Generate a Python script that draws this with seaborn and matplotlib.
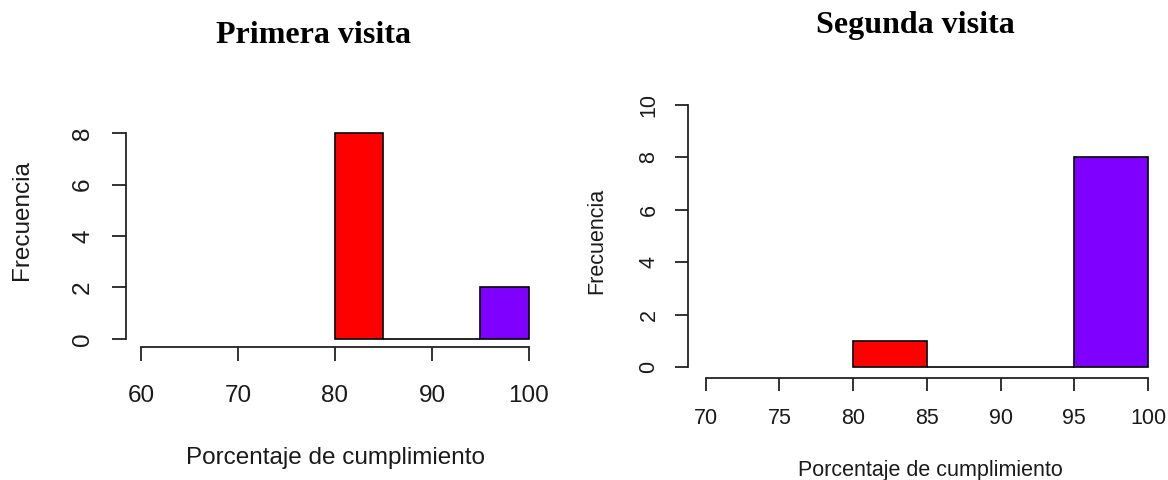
import numpy as np
import pandas as pd
import matplotlib
matplotlib.use("Agg")
import matplotlib.pyplot as plt
import seaborn as sns

# ---- data ----
bin_edges = [80, 85, 90, 95, 100]
bin_colors = ["#FF0000", "#80FF00", "#00FFFF", "#8000FF"]
primera_counts = [8, 0, 0, 2]
segunda_counts = [1, 0, 0, 8]
titles = ["Primera visita", "Segunda visita"]
x_label = "Porcentaje de cumplimiento"
y_label = "Frecuencia"
primera_xticks = [60, 70, 80, 90, 100]
primera_yticks = [0, 2, 4, 6, 8]
segunda_xticks = [70, 75, 80, 85, 90, 95, 100]
segunda_yticks = [0, 2, 4, 6, 8, 10]

sns.set_style("white")
plt.rcParams['font.family'] = ['Liberation Sans', 'DejaVu Sans']

fig = plt.figure(figsize=(11.68, 4.8), dpi=100)
W, H = 1168, 480


def add_ax(x0, x1, y_top, y_bot):
    return fig.add_axes([x0 / W, 1 - y_bot / H, (x1 - x0) / W, (y_bot - y_top) / H])


ax1 = add_ax(125.5, 544.5, 124.8, 347.2)
ax2 = add_ax(688.0, 1165.7, 94.5, 377.5)

TXT = "#1a1a1a"


def draw(ax, counts, xticks, yticks, fs, ticklen, xpad, ypad, xlab_pos, ylab_pos):
    centers = [(a + b) / 2 for a, b in zip(bin_edges[:-1], bin_edges[1:])]
    df = pd.DataFrame({"x": centers, "w": counts})
    sns.histplot(data=df, x="x", weights="w", bins=bin_edges, ax=ax,
                 stat="count", edgecolor="black", linewidth=1.2, alpha=1)
    for patch, c in zip(ax.patches, bin_colors):
        patch.set_facecolor(c)
        patch.set_alpha(1)
    xr = xticks[-1] - xticks[0]
    yr = yticks[-1] - yticks[0]
    ax.set_xlim(xticks[0] - 0.04 * xr, xticks[-1] + 0.04 * xr)
    ax.set_ylim(yticks[0] - 0.04 * yr, yticks[-1] + 0.04 * yr)
    for s in ["top", "right"]:
        ax.spines[s].set_visible(False)
    for s in ["left", "bottom"]:
        ax.spines[s].set_visible(True)
        ax.spines[s].set_color("#222222")
        ax.spines[s].set_linewidth(1.3)
    ax.spines["left"].set_bounds(yticks[0], yticks[-1])
    ax.spines["bottom"].set_bounds(xticks[0], xticks[-1])
    ax.set_xticks(xticks)
    ax.set_xticklabels([str(t) for t in xticks])
    ax.set_yticks(yticks)
    ax.set_yticklabels([str(t) for t in yticks], rotation=90, va="center")
    ax.tick_params(axis="both", direction="out", length=ticklen, width=1.3,
                   color="#222222", labelcolor=TXT, labelsize=fs,
                   bottom=True, left=True)
    ax.tick_params(axis="x", pad=xpad)
    ax.tick_params(axis="y", pad=ypad)
    ax.set_xlabel(x_label, fontsize=fs, color=TXT, va="center")
    ax.set_ylabel(y_label, fontsize=fs, color=TXT, va="center")
    ax.xaxis.set_label_coords(*xlab_pos)
    ax.yaxis.set_label_coords(*ylab_pos)
    ax.grid(False)


draw(ax1, primera_counts, primera_xticks, primera_yticks, 17.5, 10, 17, 12.5,
     (0.5, -0.50), (-0.247, 0.572))
draw(ax2, segunda_counts, segunda_xticks, segunda_yticks, 15.5, 9.5, 12.5, 11,
     (0.507, -0.33), (-0.19, 0.482))

fig.text(313 / W, 1 - 43 / H, titles[0], ha="center", va="baseline",
         family="Liberation Serif", fontweight="bold", fontsize=23, color="black")
fig.text(915 / W, 1 - 33 / H, titles[1], ha="center", va="baseline",
         family="Liberation Serif", fontweight="bold", fontsize=23, color="black")

fig.savefig("out.png", dpi=100)
